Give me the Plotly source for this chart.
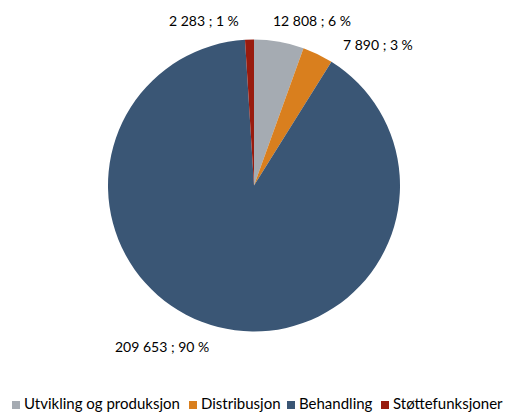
import math
import plotly.graph_objects as go

# Slice data, clockwise from 12 o'clock
categories = ["Utvikling og produksjon", "Distribusjon", "Behandling", "Støttefunksjoner"]
values = [12808, 7890, 209653, 2283]
colors = ["#A5ABB2", "#D97F1E", "#3A5675", "#991B0E"]

# Label offsets (pixels) from each slice's rim midpoint
label_shift = [(33, 21), (60, 10), (-56, -19), (-45, 19)]
# Left edge (pixels) of each legend swatch along the bottom row
legend_x = [12, 189, 287, 381]

W, H = 505, 412
cx, cy, r = 254, 185.5, 146  # pie centre and radius in pixels
FONT = "Lato, Open Sans, sans-serif"

fig = go.Figure(go.Pie(
    labels=categories,
    values=values,
    marker=dict(colors=colors, line=dict(width=0)),
    sort=False,
    direction="clockwise",
    rotation=0,
    textinfo="none",
    hoverinfo="label+value+percent",
    showlegend=False,
    domain=dict(x=[(cx - r) / W, (cx + r) / W], y=[1 - (cy + r) / H, 1 - (cy - r) / H]),
))


def fmt_num(v):
    return f"{v:,}".replace(",", " ")


total = sum(values)
cum = 0
annotations = []
shapes = []
for v, (dx, dy) in zip(values, label_shift):
    mid = (cum + v / 2) / total * 2 * math.pi
    cum += v
    px = cx + r * math.sin(mid)
    py = cy - r * math.cos(mid)
    pct = round(v / total * 100)
    annotations.append(dict(
        x=px / W, y=1 - py / H, xref="paper", yref="paper",
        text=f"{fmt_num(v)} ; {pct} %",
        showarrow=False, xshift=dx, yshift=dy,
        xanchor="center", yanchor="middle",
        font=dict(size=14, color="#000000", family=FONT),
    ))

# Bottom legend: square swatch followed by the category name
sw_y, txt_y, sw = 405, 402.5, 8
for name, col, lx in zip(categories, colors, legend_x):
    shapes.append(dict(
        type="rect", xref="paper", yref="paper",
        x0=lx / W, x1=(lx + sw) / W,
        y0=1 - (sw_y + sw / 2) / H, y1=1 - (sw_y - sw / 2) / H,
        fillcolor=col, line=dict(width=0),
    ))
    annotations.append(dict(
        x=(lx + sw + 3) / W, y=1 - txt_y / H, xref="paper", yref="paper",
        text=name, showarrow=False, xanchor="left", yanchor="middle",
        borderpad=0,
        font=dict(size=15, color="#000000", family=FONT),
    ))

fig.update_layout(
    width=W, height=H,
    margin=dict(l=0, r=0, t=0, b=0),
    paper_bgcolor="white",
    plot_bgcolor="white",
    font=dict(family=FONT, size=14, color="#000000"),
    annotations=annotations,
    shapes=shapes,
    showlegend=False,
)

fig.write_html("out.html")
